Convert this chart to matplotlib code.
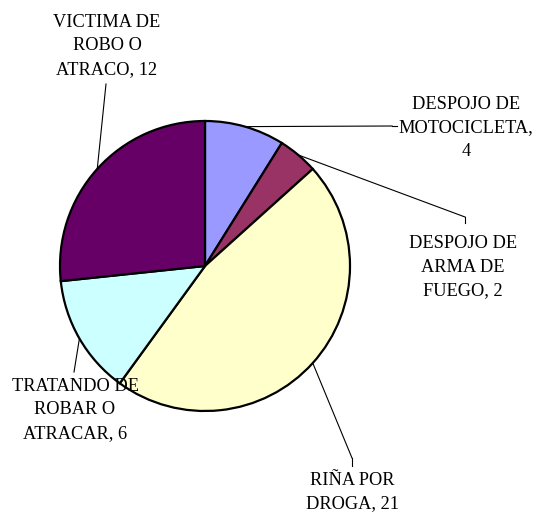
import numpy as np
import matplotlib
matplotlib.use('Agg')
import matplotlib.pyplot as plt

# data
labels = ['DESPOJO DE\nMOTOCICLETA,\n4', 'DESPOJO DE\nARMA DE\nFUEGO, 2',
          'RIÑA POR\nDROGA, 21', 'TRATANDO DE\nROBAR O\nATRACAR, 6',
          'VICTIMA DE\nROBO O\nATRACO, 12']
values = [4, 2, 21, 6, 12]
colors = ['#9999FF', '#993366', '#FFFFCC', '#CCFFFF', '#660066']

# label centres and leader line ends (pixel layout, y from top)
label_xy = [(466, 128), (463, 267), (352, 492), (75, 410), (107, 46)]
line_end = [(392, 126), (465, 217), (352, 458), (74, 372), (106, 84)]
tick_end = [(397, 126), (465, 223), (352, 466), (74, 372), (106, 84)]

W, H = 538, 514
fig = plt.figure(figsize=(W / 100, H / 100), dpi=100)
ax = fig.add_axes([0, 0, 1, 1])
ax.set_xlim(0, W)
ax.set_ylim(0, H)
ax.set_aspect('equal')
ax.axis('off')

cx, cy, r = 205, H - 266, 145
wedges, _ = ax.pie(values, colors=colors, startangle=90, counterclock=False,
                   center=(cx, cy), radius=r,
                   wedgeprops=dict(edgecolor='black', linewidth=1.6))
ax.set_xlim(0, W)
ax.set_ylim(0, H)

font = ['Liberation Serif', 'DejaVu Serif']
for w, lab, (lx, ly), (ex, ey), (tx, ty) in zip(wedges, labels, label_xy, line_end, tick_end):
    ang = np.deg2rad((w.theta1 + w.theta2) / 2)
    px, py = cx + r * np.cos(ang), cy + r * np.sin(ang)
    ax.plot([px, ex], [py, H - ey], color='black', lw=0.8, zorder=5)
    ax.plot([ex, tx], [H - ey, H - ty], color='black', lw=0.8, zorder=5)
    ax.text(lx, H - ly, lab, ha='center', va='center', fontsize=13.2,
            family=font, linespacing=1.47, zorder=6)

fig.savefig('out.png', dpi=100)
